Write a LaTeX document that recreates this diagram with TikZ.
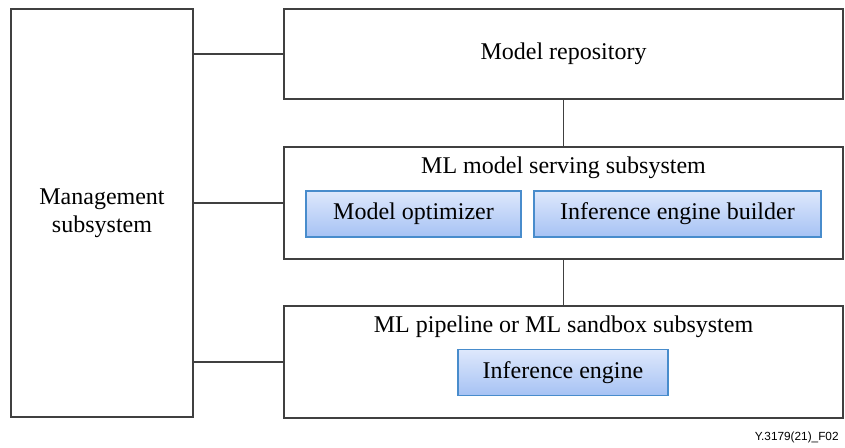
\documentclass[tikz,border=0pt]{standalone}
\usepackage{fontspec}
\setmainfont{Liberation Serif}
\newfontfamily\figlabelfont{Liberation Sans}
\definecolor{boxline}{RGB}{64,64,64}
\definecolor{bluetop}{RGB}{222,232,252}
\definecolor{bluebot}{RGB}{166,194,244}
\definecolor{blueline}{RGB}{72,140,204}
\begin{document}
\begin{tikzpicture}[x=0.5pt,y=-0.5pt]
\tikzstyle{every node}+=[inner sep=0pt]
\tikzstyle{sysbox}=[draw=boxline, line width=0.8pt, fill=white]
\tikzstyle{bluebox}=[draw=blueline, line width=0.7pt, top color=bluetop, bottom color=bluebot, font=\fontsize{12}{14}\selectfont]
\tikzstyle{link}=[draw=boxline, line width=0.9pt]
\useasboundingbox (0,0) rectangle (845,448);

% outer boxes
\node[sysbox, minimum width=91pt, minimum height=204pt, align=center, font=\fontsize{12}{14}\selectfont] (mgmt) at (102,213) {Management\\subsystem};
\node[sysbox, minimum width=279.5pt, minimum height=45pt] (repo) at (563.5,54) {};
\node[sysbox, minimum width=279.5pt, minimum height=56pt] (serving) at (563.5,203) {};
\node[sysbox, minimum width=279.5pt, minimum height=56pt] (pipeline) at (563.5,362) {};

% titles
\node[font=\fontsize{12}{14}\selectfont] (repotitle) at (563.5,54) {Model repository};
\node[font=\fontsize{12}{14}\selectfont] (servingtitle) at (563.5,168) {ML model serving subsystem};
\node[font=\fontsize{12}{14}\selectfont] (pipelinetitle) at (563.5,327) {ML pipeline or ML sandbox subsystem};

% inner blue boxes
\node[bluebox, minimum width=107.5pt, minimum height=23pt] (optimizer) at (413.5,214) {Model optimizer};
\node[bluebox, minimum width=143.5pt, minimum height=23pt] (builder) at (677.5,214) {Inference engine builder};
\node[bluebox, minimum width=105pt, minimum height=23pt] (engine) at (563,372.5) {Inference engine};

% connectors
\draw[link] (mgmt.east |- repo.west) -- (repo.west);
\draw[link] (mgmt.east |- serving.west) -- (serving.west);
\draw[link] (mgmt.east |- pipeline.west) -- (pipeline.west);
\draw[link] (repo.south) -- (serving.north);
\draw[link] (serving.south) -- (pipeline.north);

\node[anchor=east, font=\figlabelfont\fontsize{5.9}{7}\selectfont] (figid) at (839,437) {Y.3179(21)\_F02};
\end{tikzpicture}
\end{document}
